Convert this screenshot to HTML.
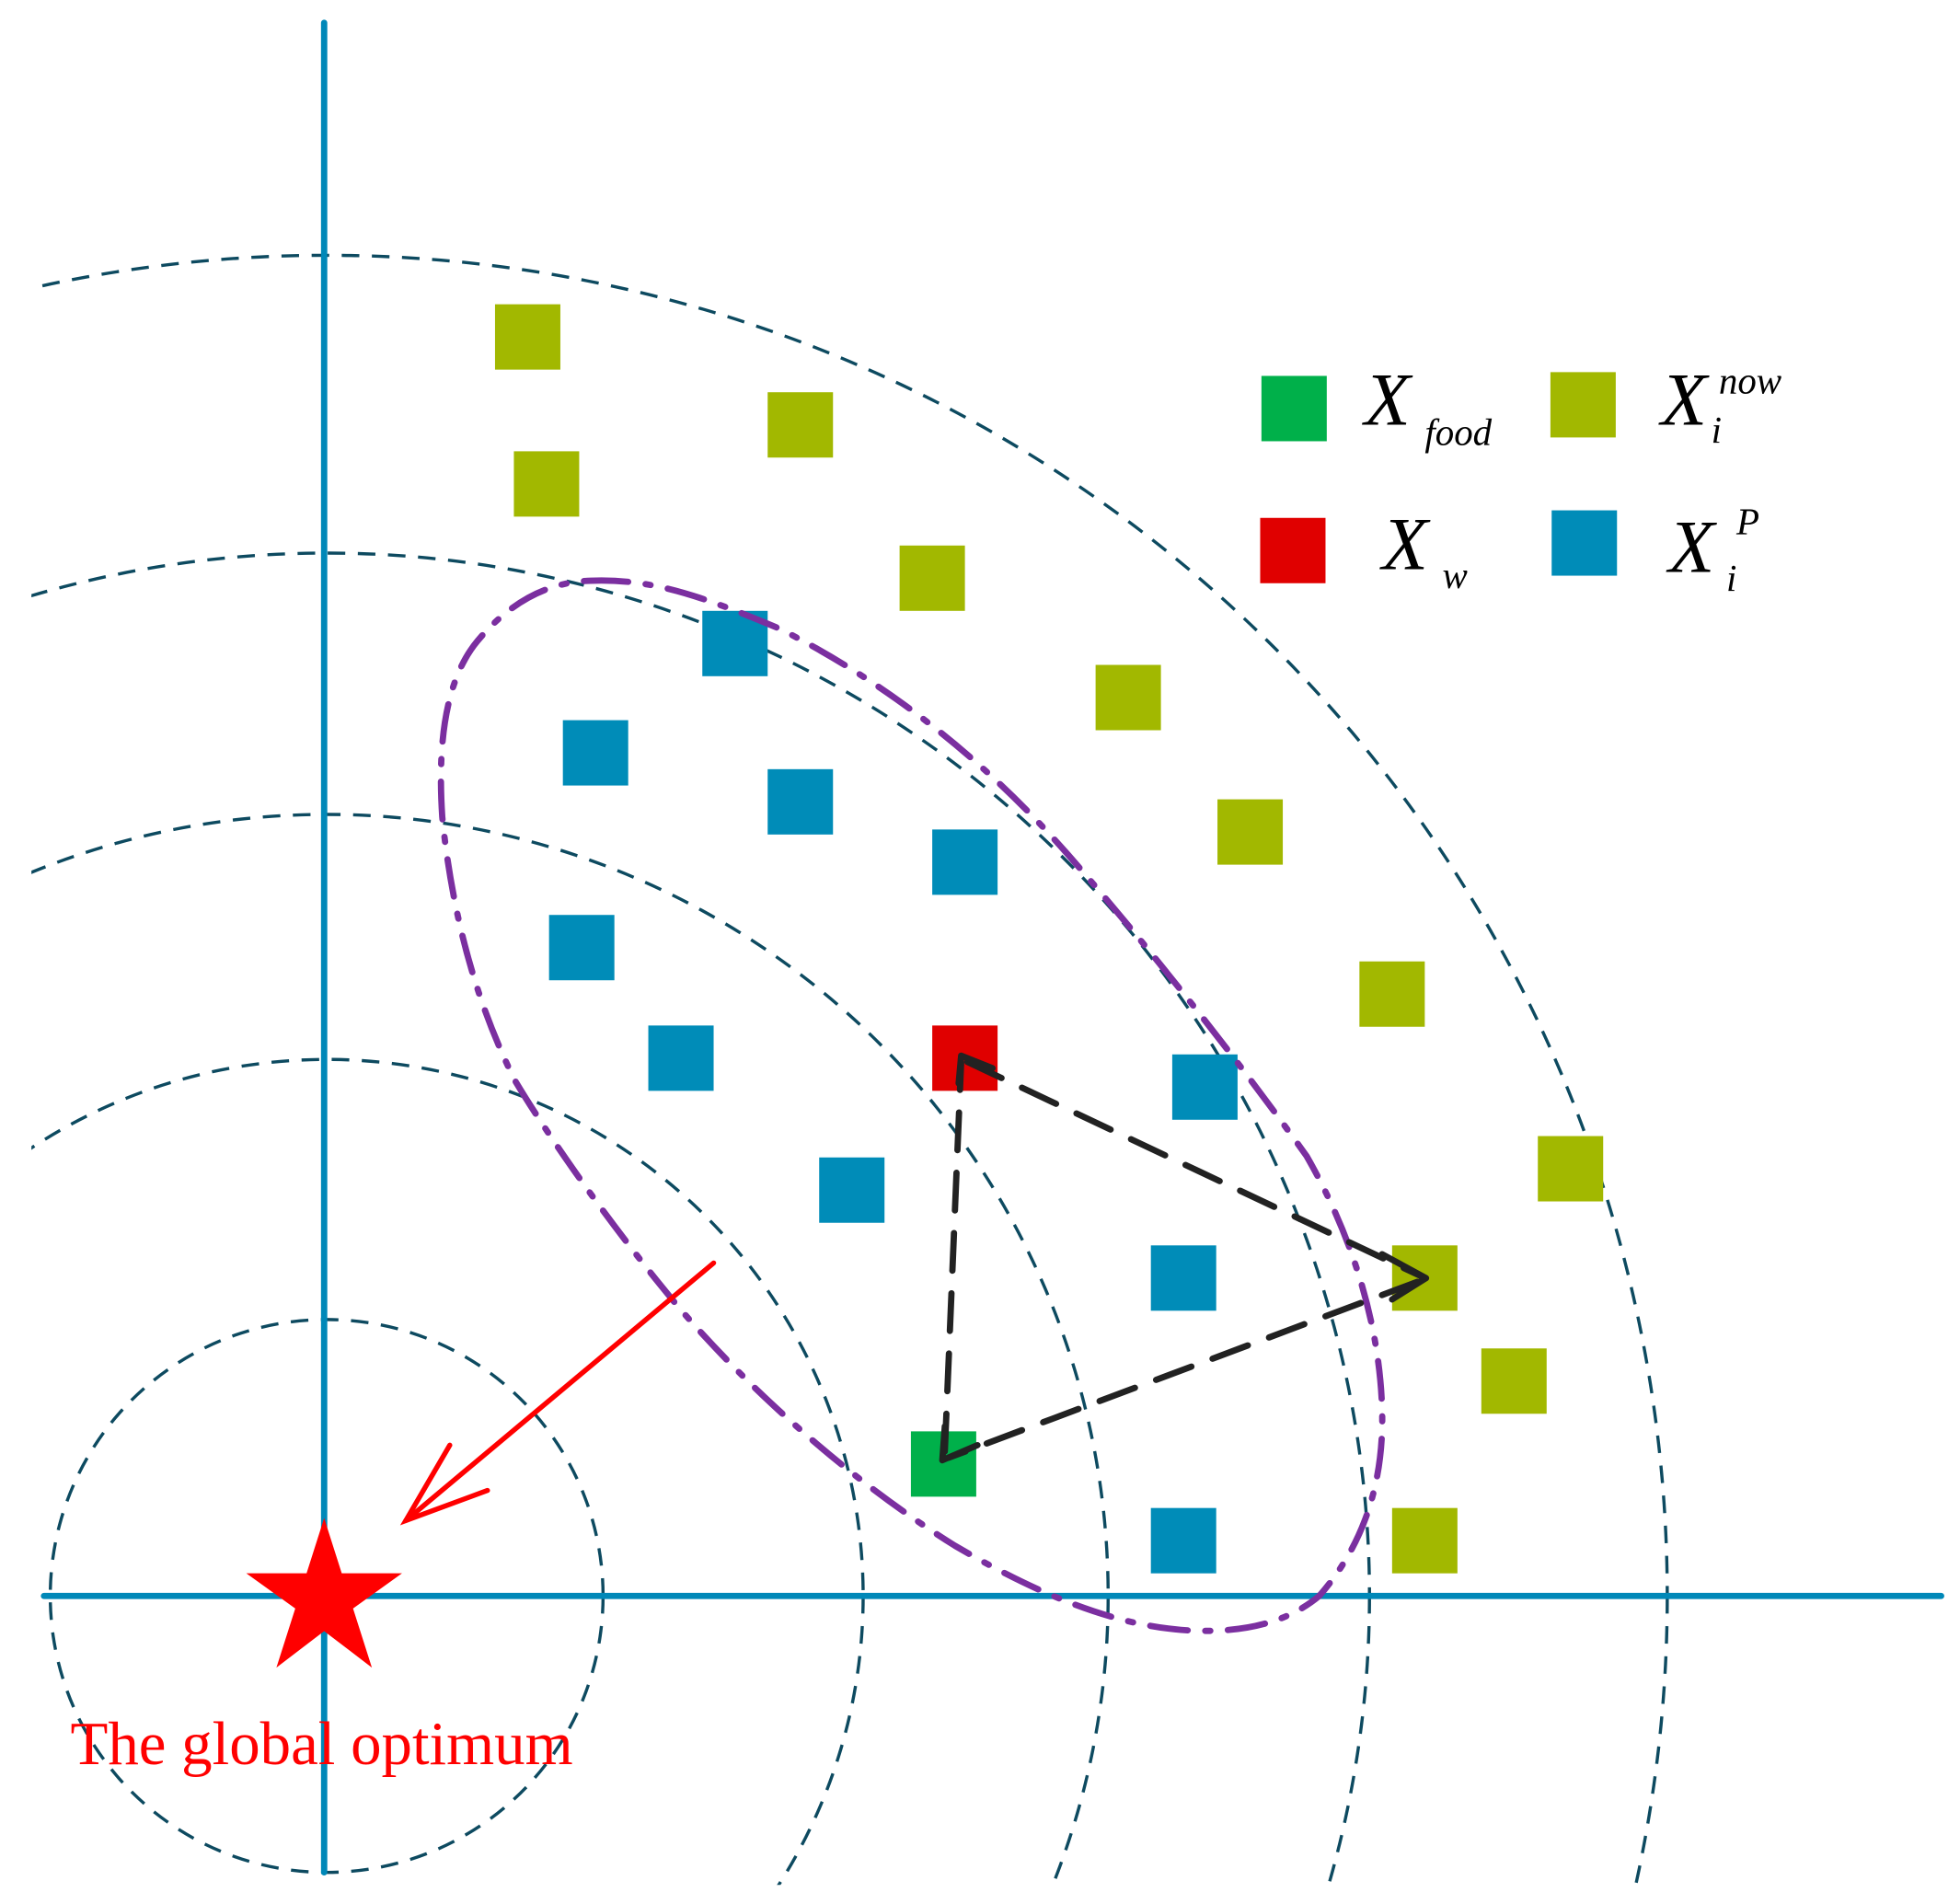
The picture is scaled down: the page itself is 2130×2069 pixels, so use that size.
<!DOCTYPE html>
<html><head><meta charset="utf-8"><style>html,body{margin:0;padding:0;background:#fff;width:2130px;height:2069px;overflow:hidden}svg{display:block}</style></head>
<body>
<svg width="2130" height="2069" viewBox="0 0 1560 1515" xmlns="http://www.w3.org/2000/svg">
<defs><clipPath id="c"><rect x="25" y="0" width="1540" height="1500"/></clipPath></defs>
<g fill="none" stroke="#0d4a60" stroke-width="2.5" stroke-dasharray="14 10" clip-path="url(#c)">
<circle cx="260" cy="1270" r="220"/>
<circle cx="260" cy="1270" r="427"/>
<circle cx="260" cy="1270" r="622"/>
<circle cx="260" cy="1270" r="830"/>
<circle cx="260" cy="1270" r="1067"/>
</g>
<g stroke="#0088b8" stroke-width="5" stroke-linecap="round">
<line x1="258" y1="18" x2="258" y2="1490"/>
<line x1="35" y1="1270" x2="1545" y2="1270"/>
</g>
<g fill="#a2b800">
<rect x="394" y="242" width="52" height="52"/><rect x="611" y="312" width="52" height="52"/>
<rect x="409" y="359" width="52" height="52"/><rect x="716" y="434" width="52" height="52"/>
<rect x="872" y="529" width="52" height="52"/><rect x="969" y="636" width="52" height="52"/>
<rect x="1082" y="765" width="52" height="52"/><rect x="1224" y="904" width="52" height="52"/>
<rect x="1108" y="991" width="52" height="52"/><rect x="1179" y="1073" width="52" height="52"/>
<rect x="1108" y="1200" width="52" height="52"/><rect x="1234" y="296" width="52" height="52"/>
</g>
<g fill="#008cb8">
<rect x="559" y="486" width="52" height="52"/><rect x="448" y="573" width="52" height="52"/>
<rect x="611" y="612" width="52" height="52"/><rect x="742" y="660" width="52" height="52"/>
<rect x="437" y="728" width="52" height="52"/><rect x="516" y="816" width="52" height="52"/>
<rect x="933" y="839" width="52" height="52"/><rect x="652" y="921" width="52" height="52"/>
<rect x="916" y="991" width="52" height="52"/><rect x="916" y="1200" width="52" height="52"/>
<rect x="1235" y="406" width="52" height="52"/>
</g>
<rect x="742" y="816" width="52" height="52" fill="#e00000"/>
<rect x="1003" y="412" width="52" height="52" fill="#e00000"/>
<rect x="725" y="1139" width="52" height="52" fill="#00b04a"/>
<rect x="1004" y="299" width="52" height="52" fill="#00b04a"/>
<path d="M470,462 C520,460 560,475 620,500 C700,540 780,600 850,680 C920,760 990,850 1040,920 C1080,990 1098,1060 1100,1120 C1102,1180 1085,1230 1050,1270 C1020,1295 980,1300 940,1297 C880,1292 820,1265 760,1230 C680,1180 600,1110 540,1040 C490,980 440,910 410,860 C380,800 360,730 352,650 C348,590 355,540 380,510 C405,480 435,463 470,462 Z" fill="none" stroke="#7b2fa0" stroke-width="5" stroke-dasharray="30 14 4 14" stroke-linecap="round"/>
<g fill="none" stroke="#222" stroke-width="5" stroke-linecap="round" stroke-linejoin="round">
<g stroke-dasharray="30 18">
<line x1="770" y1="845" x2="1130" y2="1015"/>
<line x1="1128" y1="1020" x2="755" y2="1160"/>
<line x1="752" y1="1155" x2="765" y2="845"/>
</g>
<polyline points="1100,998 1135,1017 1108,1034"/>
<polyline points="752,1135 750,1162 778,1150"/>
<polyline points="763,862 765,840 790,850"/>
</g>
<g stroke="#ff0000" stroke-width="4" fill="none" stroke-linecap="round">
<line x1="568" y1="1005" x2="323" y2="1210"/>
<polyline points="358,1150 323,1210 388,1186"/>
</g>
<polygon fill="#ff0000" points="258,1208 272,1252 320,1252 281,1280 296,1327 258,1298 220,1327 235,1280 196,1252 244,1252"/>
<text x="56" y="1404" font-family="Liberation Serif, serif" font-size="49" textLength="400" fill="#ff0000">The global optimum</text>
<g font-family="Liberation Serif, serif" font-style="italic" fill="#000">
<text x="1086" y="338" font-size="60">X</text><text x="1134" y="354" font-size="30">food</text>
<text x="1322" y="338" font-size="60">X</text><text x="1362" y="352" font-size="30">i</text><text x="1368" y="313" font-size="30">now</text>
<text x="1100" y="453" font-size="60">X</text><text x="1148" y="468" font-size="30">w</text>
<text x="1328" y="455" font-size="60">X</text><text x="1374" y="470" font-size="30">i</text><text x="1382" y="425" font-size="30">P</text>
</g>
</svg>
</body></html>
